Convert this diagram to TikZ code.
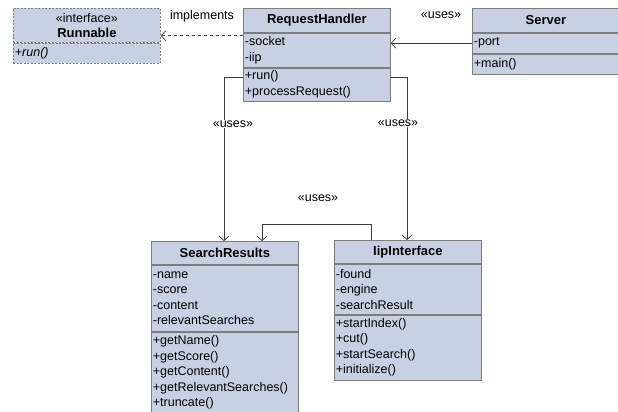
\documentclass[tikz,border=0pt]{standalone}
\usepackage{fontspec}
\setmainfont{Liberation Sans}
\usetikzlibrary{positioning,arrows.meta}
\definecolor{umlfill}{RGB}{199,209,227}
\definecolor{umlline}{RGB}{125,125,125}
\definecolor{linkline}{RGB}{60,60,60}
\tikzset{
  part/.style={draw=umlline, fill=umlfill, line width=0.8pt, inner xsep=1.5pt, inner ysep=0pt,
    text width=144pt, align=left, font=\fontsize{12.5}{15.5}\selectfont},
  head/.style={part, align=center, font=\fontsize{13}{15.5}\selectfont\bfseries},
  iface/.style={dash pattern=on 2pt off 1.5pt},
  link/.style={draw=linkline, line width=0.7pt, -{Straight Barb[length=4.5pt,width=10pt]}},
  lbl/.style={fill=white, inner sep=1pt, font=\fontsize{12.5}{15}\selectfont}
}
\begin{document}
\begin{tikzpicture}[x=1pt,y=-1pt]
  \fill[white] (0,0) rectangle (618,412);
  \useasboundingbox (0,0) rectangle (618,412);

  \node[part, iface, align=center, anchor=north west, minimum height=34pt] (rn-name) at (13,8) {«interface»\\\textbf{\fontsize{13}{15.5}\selectfont Runnable}};
  \node[part, iface, minimum height=20pt, below=0pt of rn-name] (rn-ops) {\textit{+run()}};

  \node[head, anchor=north west, minimum height=24pt] (rh-name) at (243,8) {RequestHandler};
  \node[part, minimum height=34pt, below=0pt of rh-name] (rh-attr) {-socket\\-iip};
  \node[part, minimum height=33pt, below=0pt of rh-attr] (rh-ops) {+run()\\+processRequest()};

  \node[head, anchor=north west, minimum height=24pt] (sv-name) at (472,8) {Server};
  \node[part, minimum height=20pt, below=0pt of sv-name] (sv-attr) {-port};
  \node[part, minimum height=20pt, below=0pt of sv-attr] (sv-ops) {+main()};

  \node[head, anchor=north west, minimum height=23pt] (sr-name) at (151,241) {SearchResults};
  \node[part, minimum height=66pt, below=0pt of sr-name] (sr-attr) {-name\\-score\\-content\\-relevantSearches};
  \node[part, minimum height=81pt, below=0pt of sr-attr] (sr-ops) {+getName()\\+getScore()\\+getContent()\\+getRelevantSearches()\\+truncate()};

  \node[head, anchor=north west, minimum height=23pt] (ip-name) at (334,240) {IipInterface};
  \node[part, minimum height=50pt, below=0pt of ip-name] (ip-attr) {-found\\-engine\\-searchResult};
  \node[part, minimum height=65pt, below=0pt of ip-attr] (ip-ops) {+startIndex()\\+cut()\\+startSearch()\\+initialize()};

  \coordinate (impl) at ([yshift=-3pt]rh-attr.north west);
  \coordinate (rh-l) at ([yshift=-10pt]rh-ops.north west);
  \coordinate (rh-r) at ([yshift=-10pt]rh-ops.north east);

  \draw[link, dashed] (impl) -- (impl -| rn-name.east);
  \draw[link] (sv-attr.west) -- (sv-attr.west -| rh-attr.east);
  \draw[link] (rh-l) -| ([xshift=73pt]sr-name.north west);
  \draw[link] (rh-r) -| ([xshift=73pt]ip-name.north west);
  \draw[link] ([xshift=37pt]ip-name.north west) -- ++(0,16pt) -| ([xshift=111pt]sr-name.north west);

  \node[lbl] (impl-lbl) at (202,16) {implements};
  \node[lbl] (sv-lbl) at (441,15) {«uses»};
  \node[lbl] (sr-lbl) at (233,124) {«uses»};
  \node[lbl] (ip-lbl) at (398,123) {«uses»};
  \node[lbl] (mid-lbl) at (318,198) {«uses»};
\end{tikzpicture}
\end{document}
